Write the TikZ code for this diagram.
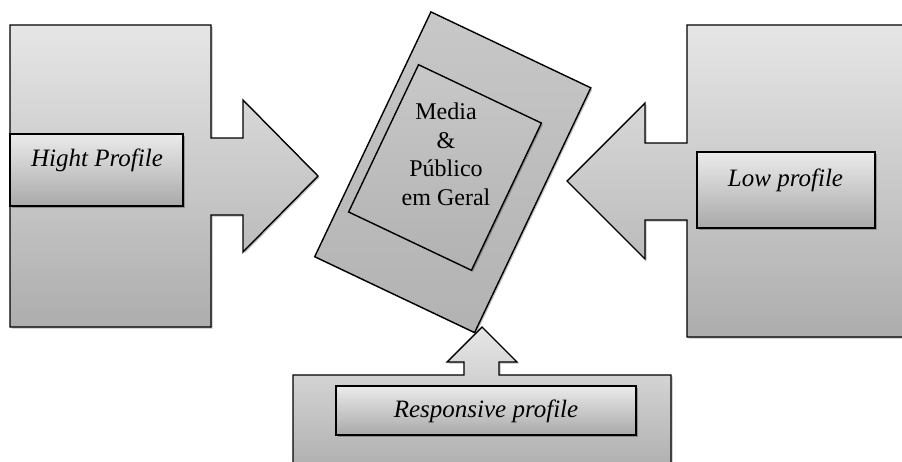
\documentclass[tikz,border=0pt]{standalone}
\usepackage{fontspec}
\setmainfont{Liberation Serif}
\usetikzlibrary{shadows}
\definecolor{gtop}{HTML}{E6E6E6}
\definecolor{gbot}{HTML}{ADADAD}
\definecolor{ltop}{HTML}{EBEBEB}
\definecolor{lbot}{HTML}{A9A9A9}
\definecolor{ctop}{HTML}{C8C8C8}
\definecolor{cbot}{HTML}{B2B2B2}
\tikzset{
  bigshape/.style={draw=black, line width=1.4pt, line join=miter, top color=gtop, bottom color=gbot,
    drop shadow={shadow xshift=1.5pt, shadow yshift=-1.5pt, opacity=0.25, fill=black}},
  labelbox/.style={draw=black, line width=1.4pt, top color=ltop, bottom color=lbot, inner sep=0pt,
    drop shadow={shadow xshift=1.5pt, shadow yshift=-1.5pt, opacity=0.25, fill=black}},
  labeltext/.style={font=\fontsize{25}{30}\selectfont\itshape, text=black, inner sep=0pt},
  centerbox/.style={draw=black, line width=1.4pt, top color=ctop, bottom color=cbot, inner sep=0pt, rotate=-25.4,
    drop shadow={shadow xshift=1.5pt, shadow yshift=-1.5pt, opacity=0.25, fill=black}},
}
\begin{document}
\begin{tikzpicture}[x=1pt, y=-1pt]
\useasboundingbox (0,0) rectangle (902,461);
\clip (0,0) rectangle (902,461);
% left shape with arrow
\path[bigshape] (10,25) -- (211,25) -- (211,138) -- (243,138) -- (243,100) -- (318,176) -- (243,252)
  -- (243,215) -- (211,215) -- (211,327) -- (10,327) -- cycle;
% right shape with arrow
\path[bigshape] (912,25) -- (687,25) -- (687,143) -- (645,143) -- (645,103) -- (567,181) -- (645,259)
  -- (645,220) -- (687,220) -- (687,337) -- (912,337) -- cycle;
% bottom shape with arrow
\path[bigshape] (293,475) -- (293,375) -- (464,375) -- (464,362) -- (447,362) -- (482,327) -- (517,362)
  -- (499,362) -- (499,375) -- (671,375) -- (671,475) -- cycle;
% centre
\node[centerbox, minimum width=177pt, minimum height=271pt] (outer) at (452.75,172.25) {};
\node[centerbox, minimum width=136pt, minimum height=163pt] (inner) at (445,167.5) {};
\node[align=center, font=\fontsize{24}{28.5}\selectfont, text=black] (media) at (446,154.5)
  {Media\\\&\\Público\\em Geral};
% labels
\node[labelbox, minimum width=173pt, minimum height=72pt] (high) at (96.5,170) {};
\node[labeltext] (hightext) at (97,160) {Hight Profile};
\node[labelbox, minimum width=178pt, minimum height=76pt] (low) at (786,190) {};
\node[labeltext] (lowtext) at (785.5,180) {Low profile};
\node[labelbox, minimum width=300pt, minimum height=49pt] (resp) at (486,410.5) {};
\node[labeltext] (resptext) at (486,411) {Responsive profile};
\end{tikzpicture}
\end{document}
